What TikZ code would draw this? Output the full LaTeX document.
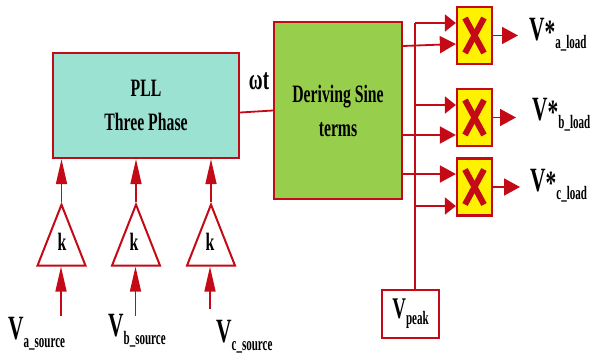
\documentclass[tikz,border=0pt]{standalone}
\usepackage{fontspec}
\usepackage{tikz}
\usetikzlibrary{arrows.meta, shapes.geometric}
\setmainfont[FakeStretch=0.63,BoldFeatures={FakeStretch=0.63}]{Liberation Serif}
\newfontfamily\subfont[FakeStretch=0.58,BoldFeatures={FakeStretch=0.58}]{Liberation Serif}
\definecolor{redink}{RGB}{196, 10, 22}
\definecolor{pllfill}{RGB}{156, 226, 211}
\definecolor{sinefill}{RGB}{151, 206, 75}
\newcommand{\siglabel}[2]{V{\raisebox{-3pt}{\fontsize{34}{34}\selectfont #1}}{\subfont\fontsize{19}{19}\selectfont\raisebox{-8pt}{#2}}}
\tikzset{
  blockbox/.style={draw=redink, line width=2.2pt, rectangle, align=center, font=\fontsize{25}{28}\selectfont\bfseries},
  mulbox/.style={draw=redink, line width=2.2pt, fill=yellow, rectangle, minimum width=35pt, minimum height=57pt,
    path picture={\draw[redink, line width=6pt] ([shift={(8pt,-11pt)}]path picture bounding box.north west) -- ([shift={(-8pt,11pt)}]path picture bounding box.south east);
      \draw[redink, line width=6pt] ([shift={(-8pt,-11pt)}]path picture bounding box.north east) -- ([shift={(8pt,11pt)}]path picture bounding box.south west);}},
  gainbox/.style={draw=redink, line width=2pt, isosceles triangle, shape border rotate=90, isosceles triangle stretches,
    minimum width=48pt, minimum height=61pt, inner sep=0pt, anchor=apex},
  sigarrow/.style={redink, line width=1.8pt, -{Triangle[length=16pt,width=17pt]}},
  shortarrow/.style={redink, line width=1.8pt, -{Triangle[length=11pt,width=17pt]}},
  uparrow/.style={redink, line width=1.6pt, -{Triangle[length=25pt,width=11pt]}},
  sigline/.style={redink, line width=1.8pt},
  siglab/.style={inner sep=0pt, anchor=west, font=\fontsize{34}{34}\selectfont\bfseries},
  gainlab/.style={inner sep=0pt, font=\fontsize{25}{25}\selectfont\bfseries}
}
\begin{document}
\begin{tikzpicture}[x=1pt, y=-1pt]
  \useasboundingbox (0,0) rectangle (591,359);
  % blocks
  \node[blockbox, fill=pllfill, minimum width=186pt, minimum height=105pt] (pll) at (146,105.5) {PLL\\[6pt]Three Phase};
  \node[blockbox, fill=sinefill, minimum width=128pt, minimum height=177pt] (sine) at (338,110.5) {Deriving Sine\\[6pt]terms};
  \node[mulbox] (mula) at (474.5,35.5) {};
  \node[mulbox] (mulb) at (474.5,117.5) {};
  \node[mulbox] (mulc) at (474.5,187) {};
  \node[draw=redink, line width=1.8pt, rectangle, minimum width=57pt, minimum height=48pt, inner sep=0pt, font=\fontsize{30}{30}\selectfont\bfseries] (peak) at (410.5,314) {V{\subfont\fontsize{19}{19}\selectfont\raisebox{-6pt}{peak}}};
  \node[inner sep=0pt, font=\fontsize{30}{30}\selectfont\bfseries] (wt) at (259,81) {ωt};
  % gains
  \node[gainbox] (gaina) at (61.5,202) {};
  \node[gainbox] (gainb) at (136,202) {};
  \node[gainbox] (gainc) at (211,202) {};
  \node[gainlab] (ka) at (62,242) {k};
  \node[gainlab] (kb) at (134,242) {k};
  \node[gainlab] (kc) at (210,242) {k};
  % inputs
  \node[siglab] (va) at (8,334) {\siglabel{}{a\_source}};
  \node[siglab] (vb) at (108,331) {\siglabel{}{b\_source}};
  \node[siglab] (vc) at (216,337) {\siglabel{}{c\_source}};
  % outputs
  \node[siglab] (outa) at (529,35) {\siglabel{*}{a\_load}};
  \node[siglab] (outb) at (532,115) {\siglabel{*}{b\_load}};
  \node[siglab] (outc) at (530,186) {\siglabel{*}{c\_load}};
  \coordinate (ina) at (61,316);
  \coordinate (inb) at (135.5,316);
  \coordinate (inc) at (210,309);
  \coordinate (enda) at (518,35.5);
  \coordinate (endb) at (516,117.5);
  \coordinate (endc) at (520,187);
  \coordinate (riser) at (415,23);
  % gain arrows
  \draw[uparrow] (gaina.apex) -- (gaina.apex |- pll.south);
  \draw[uparrow] (gainb.apex) -- (gainb.apex |- pll.south);
  \draw[uparrow] (gainc.apex) -- (gainc.apex |- pll.south);
  \draw[uparrow] (ina) -- (ina |- gaina.lower side);
  \draw[uparrow] (inb) -- (inb |- gainb.lower side);
  \draw[uparrow] (inc) -- (inc |- gainc.lower side);
  % sine terms
  \draw[sigline] ([yshift=-7pt]pll.east) -- (sine.west);
  \draw[sigline] (peak.north -| riser) -- (riser);
  \draw[shortarrow] (riser) -- (riser -| mula.west);
  \draw[shortarrow] (riser |- 0,105) -- (mulb.west |- 0,105);
  \draw[shortarrow] (riser |- 0,206) -- (mulc.west |- 0,206);
  \draw[sigarrow] (sine.east |- 0,46) -- (mula.west |- 0,44);
  \draw[sigarrow] (sine.east |- 0,135) -- (mulb.west |- 0,135);
  \draw[sigarrow] (sine.east |- 0,174) -- (mulc.west |- 0,174);
  % outputs
  \draw[sigarrow] (mula.east) -- (enda);
  \draw[sigarrow] (mulb.east) -- (endb);
  \draw[sigarrow] (mulc.east) -- (endc);
\end{tikzpicture}
\end{document}
